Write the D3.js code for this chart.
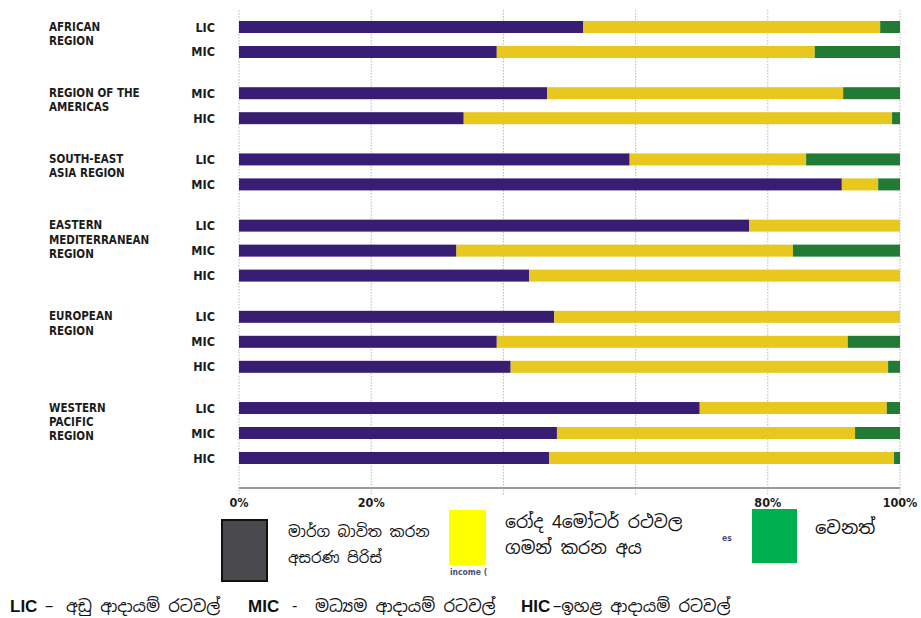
<!DOCTYPE html>
<html>
<head>
<meta charset="utf-8">
<script src="https://cdn.jsdelivr.net/npm/d3@7"></script>
<style>
  html, body { margin: 0; padding: 0; background: #ffffff; }
  svg { display: block; }
</style>
</head>
<body>
<svg id="chart" width="921" height="618"></svg>
<script>
// ---------- data ----------
const regionLines = [
  ["AFRICAN", "REGION"],
  ["REGION OF THE", "AMERICAS"],
  ["SOUTH-EAST", "ASIA REGION"],
  ["EASTERN", "MEDITERRANEAN", "REGION"],
  ["EUROPEAN", "REGION"],
  ["WESTERN", "PACIFIC", "REGION"]
];
const incomeGroups = [
  ["LIC", "MIC"],
  ["MIC", "HIC"],
  ["LIC", "MIC"],
  ["LIC", "MIC", "HIC"],
  ["LIC", "MIC", "HIC"],
  ["LIC", "MIC", "HIC"]
];
// percentage shares per row (top to bottom)
const vulnerableUsers = [52.1, 39.0, 46.6, 34.0, 59.1, 91.2, 77.2, 32.9, 43.9, 47.7, 39.0, 41.1, 69.7, 48.1, 46.9];
const fourWheelUsers  = [44.9, 48.1, 44.8, 64.8, 26.7, 5.5, 22.8, 50.9, 56.1, 52.3, 53.1, 57.1, 28.3, 45.1, 52.2];
const otherUsers      = [3.0, 12.9, 8.6, 1.2, 14.2, 3.3, 0.0, 16.2, 0.0, 0.0, 7.9, 1.8, 2.0, 6.8, 0.9];
const tickValues = [0, 20, 40, 60, 80, 100];
const tickLabels = ["0%", "20%", "", "", "80%", "100%"];
const seriesKeys = ["vulnerable", "fourWheel", "other"];
const seriesColors = ["#381e72", "#e8c81f", "#227a35"];
const legendLabels = [
  ["මාර්ග බාවිත කරන", "අසරණ  පිරිස්"],
  ["රෝද 4මෝටර් රථවල", "ගමන් කරන අය"],
  ["වෙනත්"]
];
const legendSwatchColors = ["#4a494e", "#ffff00", "#00b050"];
const footnoteParts = [
  {t: "LIC", bold: true}, {t: "–", bold: false}, {t: "අඩු ආදායම් රටවල්", bold: false},
  {t: "MIC", bold: true}, {t: "-", bold: false}, {t: "මධ්‍යම ආදායම් රටවල්", bold: false},
  {t: "HIC", bold: true}, {t: "–ඉහළ ආදායම් රටවල්", bold: false}
];

// ---------- build rows ----------
const rows = [];
let idx = 0;
incomeGroups.forEach((g, gi) => {
  g.forEach((inc, k) => {
    rows.push({
      gi, k, income: inc,
      pos: idx + gi * 0.65,
      vulnerable: vulnerableUsers[idx],
      fourWheel: fourWheelUsers[idx],
      other: otherUsers[idx]
    });
    idx++;
  });
});

const svg = d3.select("#chart");
const labelFont = "'DejaVu Sans Condensed', 'Liberation Sans Narrow', 'DejaVu Sans', sans-serif";
const sinhalaFont = "'Noto Sans Sinhala', 'Iskoola Pota', 'Noto Sans', 'DejaVu Sans', sans-serif";

const x = d3.scaleLinear().domain([0, 100]).range([239, 900]);
const maxPos = d3.max(rows, d => d.pos);
const y = d3.scaleLinear().domain([0, maxPos]).range([27, 458]);
const barH = 12;

// gridlines
svg.append("g").selectAll("line").data(tickValues).join("line")
  .attr("x1", d => x(d)).attr("x2", d => x(d))
  .attr("y1", 10).attr("y2", 495)
  .attr("stroke", "#b8b8b8").attr("stroke-width", 1)
  .attr("stroke-dasharray", "1.5,1.5");

// axis baseline
svg.append("line")
  .attr("x1", x(0)).attr("x2", x(100))
  .attr("y1", 488).attr("y2", 488)
  .attr("stroke", "#9a9a9a").attr("stroke-width", 2);

// stacked bars
const stack = d3.stack().keys(seriesKeys);
const stacked = stack(rows);
const color = d3.scaleOrdinal().domain(seriesKeys).range(seriesColors);

svg.append("g").selectAll("g").data(stacked).join("g")
  .attr("fill", d => color(d.key))
  .selectAll("rect").data(d => d).join("rect")
  .attr("x", d => x(d[0]))
  .attr("width", d => Math.max(0, x(d[1]) - x(d[0])))
  .attr("y", d => y(d.data.pos) - barH / 2)
  .attr("height", barH);

// income labels
svg.append("g").selectAll("text").data(rows).join("text")
  .attr("x", 215)
  .attr("y", d => y(d.pos) + 4.5)
  .attr("text-anchor", "end")
  .attr("font-family", labelFont)
  .attr("font-weight", "bold")
  .attr("font-size", 12.5)
  .attr("fill", "#1b1b1b")
  .text(d => d.income);

// region labels
const firstRowPos = incomeGroups.map((g, gi) => rows.find(r => r.gi === gi).pos);
const regionG = svg.append("g");
regionLines.forEach((lines, gi) => {
  const t = regionG.append("text")
    .attr("x", 49)
    .attr("y", y(firstRowPos[gi]) + 3.5)
    .attr("font-family", labelFont)
    .attr("font-weight", "bold")
    .attr("font-size", 11.5)
    .attr("fill", "#1b1b1b");
  lines.forEach((ln, li) => {
    t.append("tspan").attr("x", 49).attr("dy", li === 0 ? 0 : 14.4).text(ln);
  });
});

// tick labels
svg.append("g").selectAll("text").data(tickValues.map((v, i) => ({v, l: tickLabels[i]})).filter(d => d.l)).join("text")
  .attr("x", d => x(d.v))
  .attr("y", 507)
  .attr("text-anchor", "middle")
  .attr("font-family", labelFont)
  .attr("font-weight", "bold")
  .attr("font-size", 12.5)
  .attr("fill", "#1b1b1b")
  .text(d => d.l);

// ---------- legend ----------
// swatch 1
svg.append("rect").attr("x", 222).attr("y", 520).attr("width", 45).attr("height", 61)
  .attr("fill", legendSwatchColors[0]).attr("stroke", "#111").attr("stroke-width", 2);
const lt1 = svg.append("text").attr("x", 288).attr("y", 537)
  .attr("font-family", sinhalaFont).attr("font-size", 15).attr("fill", "#111");
legendLabels[0].forEach((ln, i) => lt1.append("tspan").attr("x", 288).attr("dy", i ? 26 : 0).text(ln));

// swatch 2
svg.append("rect").attr("x", 449).attr("y", 510).attr("width", 37).attr("height", 55)
  .attr("fill", legendSwatchColors[1]);
svg.append("text").attr("x", 450).attr("y", 575)
  .attr("font-family", labelFont).attr("font-weight", "bold").attr("font-size", 8.5)
  .attr("fill", "#4a5070").text("income (");
const lt2 = svg.append("text").attr("x", 505).attr("y", 528)
  .attr("font-family", sinhalaFont).attr("font-size", 17.3).attr("fill", "#111");
legendLabels[1].forEach((ln, i) => lt2.append("tspan").attr("x", 505).attr("dy", i ? 26 : 0).text(ln));

// swatch 3
svg.append("text").attr("x", 722).attr("y", 541)
  .attr("font-family", labelFont).attr("font-weight", "bold").attr("font-size", 8.5)
  .attr("fill", "#4a5070").text("es");
svg.append("rect").attr("x", 752).attr("y", 509).attr("width", 45).attr("height", 54)
  .attr("fill", legendSwatchColors[2]);
svg.append("text").attr("x", 815).attr("y", 534)
  .attr("font-family", sinhalaFont).attr("font-size", 18).attr("fill", "#111")
  .text(legendLabels[2][0]);

// ---------- footnote ----------
const footX = [10, 45, 66, 248, 292, 315, 521, 553];
svg.append("g").selectAll("text").data(footnoteParts).join("text")
  .attr("x", (d, i) => footX[i])
  .attr("y", 612)
  .attr("font-family", d => d.bold ? "'Liberation Sans', Arial, sans-serif" : sinhalaFont)
  .attr("font-weight", d => d.bold ? "bold" : "normal")
  .attr("font-size", d => d.bold ? 17 : 16.5)
  .attr("fill", "#111")
  .text(d => d.t);
</script>
</body>
</html>
